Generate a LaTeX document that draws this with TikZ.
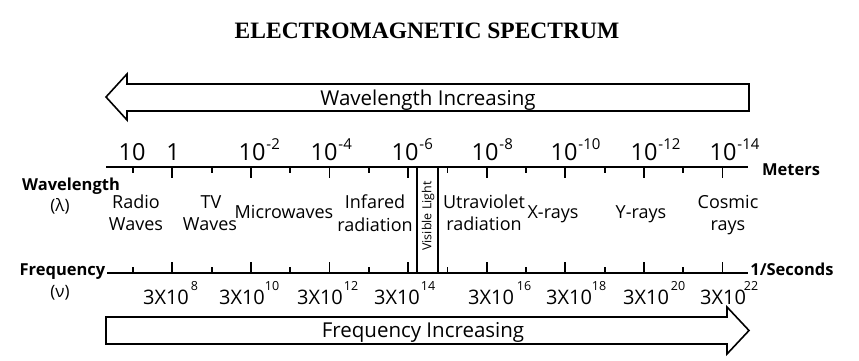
\documentclass[tikz,border=0pt]{standalone}
\usepackage{fontspec}
\setmainfont{Open Sans}
\newfontfamily\titlefont{Liberation Serif}

\newcommand{\wlsup}[1]{\rlap{\kern1pt\raisebox{11pt}{\fontsize{15}{15}\selectfont #1}}}
\newcommand{\fqsup}[2]{\rlap{\kern#1pt\raisebox{14pt}{\fontsize{12.5}{13}\selectfont #2}}}

\tikzset{
  spec arrow/.style={draw, line width=1.6pt, fill=white, line join=miter},
  axis line/.style={line width=2.4pt},
  tick line/.style={line width=1.8pt},
  scale label/.style={anchor=base, inner sep=0pt, font=\fontsize{23.5}{26}\selectfont},
  freq label/.style={anchor=base, inner sep=0pt, font=\fontsize{20}{24}\selectfont},
  band label/.style={anchor=base, inner sep=0pt, font=\fontsize{18}{22}\selectfont},
  unit label/.style={anchor=base, inner sep=0pt, font=\fontsize{16.5}{20}\bfseries\selectfont},
  arrow label/.style={anchor=base, inner sep=0pt, font=\fontsize{20.5}{24}\selectfont},
}

\begin{document}
\begin{tikzpicture}[x=1pt,y=-1pt]
\fill[white] (0,0) rectangle (859,361);
\useasboundingbox (0,0) rectangle (859,361);

\node[anchor=base, inner sep=0pt, font=\titlefont\bfseries\fontsize{23.5}{26}\selectfont] (title) at (427,39) {ELECTROMAGNETIC SPECTRUM};

% arrows
\draw[spec arrow] (749,84) -- (127,84) -- (127,74) -- (106,97) -- (127,120) -- (127,111) -- (749,111) -- cycle;
\draw[spec arrow] (106,317) -- (727,317) -- (727,307) -- (749,330.5) -- (727,354) -- (727,344) -- (106,344) -- cycle;
\node[arrow label] (wlinc) at (428,105) {Wavelength Increasing};
\node[arrow label] (fqinc) at (423,337) {Frequency Increasing};

% axes
\coordinate (wl start) at (106,167);
\coordinate (wl end) at (748,167);
\coordinate (fq start) at (107,273);
\coordinate (fq end) at (748,273);
\draw[axis line] (wl start) -- (wl end);
\draw[axis line] (fq start) -- (fq end);

\foreach \k in {0,...,15}{
  \pgfmathsetmacro{\tx}{133+39.3*\k}
  \pgfmathsetmacro{\tl}{mod(\k,2)==1 ? 11 : 6}
  \draw[tick line] (\tx,167) -- ++(0,\tl);
  \draw[tick line] (\tx,273) -- ++(0,-\tl);
}

% visible light
\coordinate (vis a) at (417,167);
\coordinate (vis b) at (417,273);
\coordinate (vis c) at (438,167);
\coordinate (vis d) at (438,273);
\draw[tick line] (vis a) -- (vis b);
\draw[tick line] (vis c) -- (vis d);
\node[rotate=90, inner sep=0pt, font=\fontsize{12.5}{14}\selectfont] (vis) at (428,216) {Visible Light};

% wavelength scale
\node[scale label] (wl0) at (132,160) {10};
\node[scale label] (wl1) at (173,160) {1};
\foreach \x/\e [count=\i from 2] in {252/-2, 324/-4, 405/-6, 485/-8, 564/-10, 644/-12, 723/-14}
  \node[scale label] (wl\i) at (\x,160) {10\wlsup{\e}};

% frequency scale
\foreach \x/\e/\s [count=\i] in {166/8/2, 242/10/0, 320/12/1, 397/14/1, 491/16/3, 569/18/0, 646/20/2, 723/22/-2}
  \node[freq label] (fq\i) at (\x,304) {3X10\fqsup{\s}{\e}};

% side labels
\node[unit label] (wl) at (71,190) {Wavelength};
\node[band label, font=\fontsize{17}{20}\selectfont] (lambda) at (60,211) {(λ)};
\node[unit label] (fq) at (62.5,275) {Frequency};
\node[band label, font=\fontsize{17}{20}\selectfont] (nu) at (60,297) {(ν)};
\node[unit label] (meters) at (791,175) {Meters};
\node[unit label] (seconds) at (792,275) {1/Seconds};

% bands
\node[band label] (radio) at (136,208) {Radio};
\node[band label] (radio2) at (136,230) {Waves};
\node[band label] (tv) at (211,208) {TV};
\node[band label] (tv2) at (210,230) {Waves};
\node[band label] (micro) at (284,218) {Microwaves};
\node[band label] (infra) at (375,208) {Infared};
\node[band label] (infra2) at (375,231) {radiation};
\node[band label] (ultra) at (484,208) {Utraviolet};
\node[band label] (ultra2) at (484,230) {radiation};
\node[band label] (xray) at (553,218) {X-rays};
\node[band label] (yray) at (641,218) {Y-rays};
\node[band label] (cosmic) at (728,208) {Cosmic};
\node[band label] (cosmic2) at (728,230) {rays};
\end{tikzpicture}
\end{document}
